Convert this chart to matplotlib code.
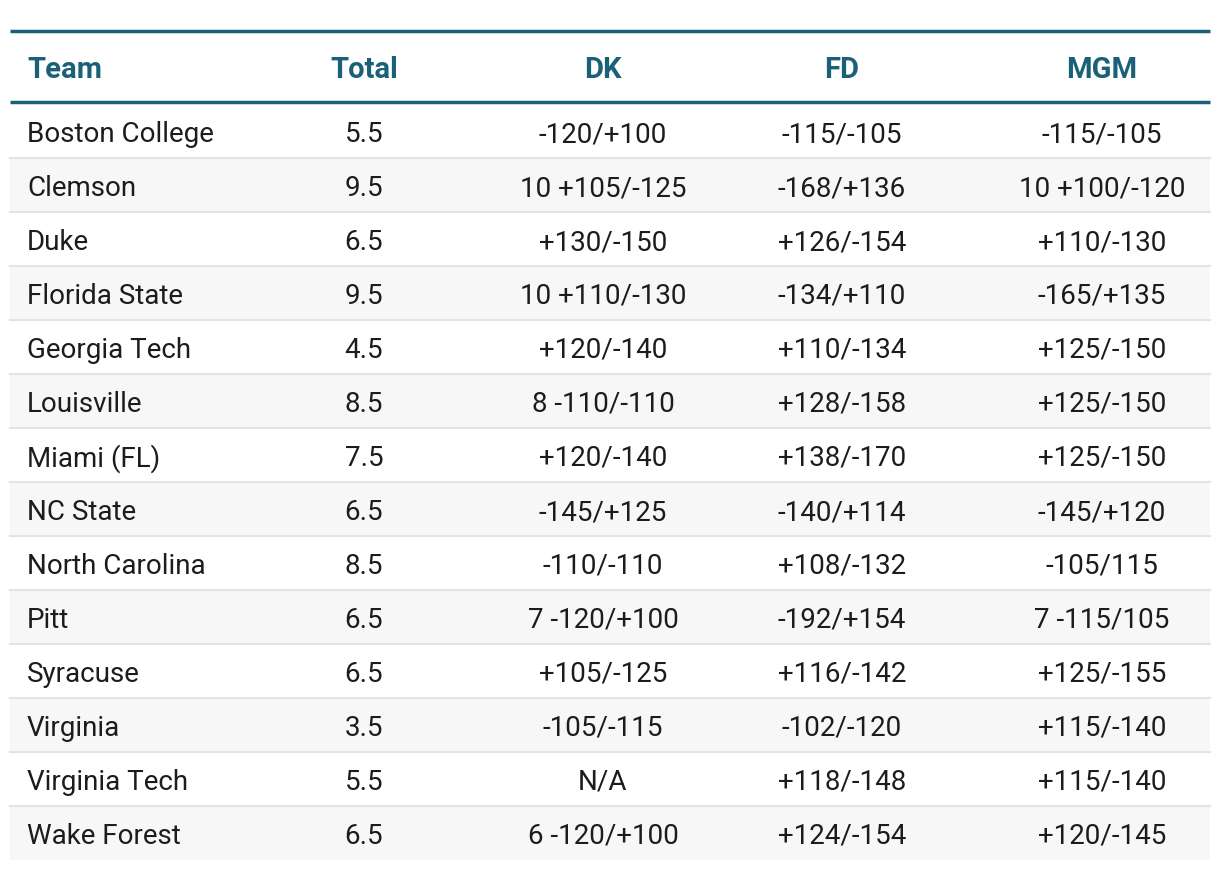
import matplotlib
matplotlib.use("Agg")
from matplotlib import pyplot as plt
from matplotlib.patches import Rectangle

teams = ["Boston College", "Clemson", "Duke", "Florida State", "Georgia Tech",
         "Louisville", "Miami (FL)", "NC State", "North Carolina", "Pitt",
         "Syracuse", "Virginia", "Virginia Tech", "Wake Forest"]
totals = ["5.5", "9.5", "6.5", "9.5", "4.5", "8.5", "7.5", "6.5", "8.5", "6.5",
          "6.5", "3.5", "5.5", "6.5"]
dk = ["-120/+100", "10 +105/-125", "+130/-150", "10 +110/-130", "+120/-140",
      "8 -110/-110", "+120/-140", "-145/+125", "-110/-110", "7 -120/+100",
      "+105/-125", "-105/-115", "N/A", "6 -120/+100"]
fd = ["-115/-105", "-168/+136", "+126/-154", "-134/+110", "+110/-134",
      "+128/-158", "+138/-170", "-140/+114", "+108/-132", "-192/+154",
      "+116/-142", "-102/-120", "+118/-148", "+124/-154"]
mgm = ["-115/-105", "10 +100/-120", "+110/-130", "-165/+135", "+125/-150",
       "+125/-150", "+125/-150", "-145/+120", "-105/115", "7 -115/105",
       "+125/-155", "+115/-140", "+115/-140", "+120/-145"]
headers = ["Team", "Total", "DK", "FD", "MGM"]

HEAD = "#1b6079"
TXT = "#1c1c1c"
plt.rcParams['font.family'] = ['Roboto', 'DejaVu Sans']

fig = plt.figure(figsize=(12.2, 8.7), dpi=100)
ax = fig.add_axes([0, 0, 1, 1])
ax.set_xlim(0, 1220)
ax.set_ylim(870, 0)
ax.axis('off')

left, right = 10, 1210
top_line = 32
head_line = 103
row_h = 54
col_x = [27, 364, 603, 842, 1102]
col_ha = ["left", "center", "center", "center", "center"]

# header
for x, h, ha in zip(col_x, headers, col_ha):
    ax.text(x, 66.5, h, ha=ha, va='center_baseline', fontsize=21, fontweight='bold', color=HEAD)

# body
columns = [teams, totals, dk, fd, mgm]
for i in range(len(teams)):
    y0 = head_line + 1.5 + i * row_h
    if i % 2 == 1:
        ax.add_patch(Rectangle((left, y0), right - left, row_h, facecolor='#f7f7f7',
                               edgecolor='none', zorder=0))
    if i < len(teams) - 1:
        ax.plot([left, right], [y0 + row_h, y0 + row_h], color='#e3e3e3', lw=1.5, zorder=1)
    for x, col, ha in zip(col_x, columns, col_ha):
        ax.text(x, y0 + row_h / 2, col[i], ha=ha, va='center_baseline',
                fontsize=20, color=TXT)

ax.plot([left, right], [top_line, top_line], color=HEAD, lw=2.5, solid_capstyle='butt')
ax.plot([left, right], [head_line, head_line], color=HEAD, lw=2.5, solid_capstyle='butt')

fig.savefig("out.png", dpi=100)
